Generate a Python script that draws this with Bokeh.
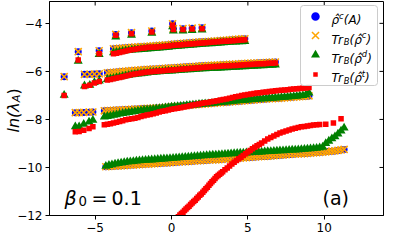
import numpy as np
from math import pi
from bokeh.plotting import figure
from bokeh.models import Range1d, FixedTicker, Label, BoxAnnotation
from bokeh.embed import file_html
from bokeh.resources import INLINE

# ---------------- data ----------------
x_ticks = [-5, 0, 5, 10]
y_ticks = [-12, -10, -8, -6, -4]
x_tick_labels = ["\u22125", "0", "5", "10"]
y_tick_labels = ["\u221212", "\u221210", "\u22128", "\u22126", "\u22124"]

# band 1 (top, discrete points)
b1_x = [-3.65, -2.62, -1.29, 0.07, 0.12, 0.75, 1.35, 2.0]
b1_c = [-4.46, -4.39, -4.32, -4.02, -4.22, -4.22, -4.2, -4.18]
b1_g = [-4.56, -4.49, -4.41, -4.14, -4.31, -4.31, -4.29, -4.27]
b1_r = [-4.5, -4.43, -4.36, -4.08, -4.26, -4.26, -4.24, -4.22]

# band 2
b2_x = [-6.11, -4.74,
        -3.8, -3.6, -3.4, -3.2, -3.0, -2.8, -2.6, -2.4, -2.2, -2.0, -1.8, -1.6, -1.4, -1.2, -1.0,
        -0.8, -0.6, -0.4, -0.2, 0.0, 0.2, 0.4, 0.6, 0.8, 1.0, 1.2, 1.4, 1.6, 1.8, 2.0, 2.2, 2.4,
        2.6, 2.8, 3.0, 3.2, 3.4, 3.6, 3.8, 4.0, 4.2, 4.4, 4.6, 4.8]
b2_c = [-5.18, -5.14,
        -5.06, -5.05, -5.04, -5.03, -5.02, -5.01, -5.0, -4.99, -4.98, -4.97, -4.97, -4.96, -4.95,
        -4.94, -4.93, -4.92, -4.91, -4.9, -4.89, -4.87, -4.86, -4.85, -4.84, -4.83, -4.82, -4.81,
        -4.8, -4.79, -4.78, -4.77, -4.77, -4.76, -4.75, -4.74, -4.73, -4.72, -4.71, -4.7, -4.69,
        -4.68, -4.67, -4.66, -4.65, -4.64]
b2_g = [-5.57, -5.29,
        -5.22, -5.2, -5.18, -5.16, -5.14, -5.13, -5.11, -5.1, -5.09, -5.08, -5.07, -5.06, -5.05,
        -5.04, -5.03, -5.02, -5.01, -5.0, -4.99, -4.97, -4.96, -4.95, -4.94, -4.93, -4.92, -4.91,
        -4.9, -4.89, -4.88, -4.87, -4.86, -4.85, -4.84, -4.83, -4.82, -4.81, -4.8, -4.79, -4.78,
        -4.77, -4.77, -4.76, -4.76, -4.75]
b2_r = [-5.53, -5.27,
        -5.27, -5.24, -5.21, -5.18, -5.15, -5.12, -5.1, -5.08, -5.06, -5.04, -5.03, -5.01, -5.0,
        -4.99, -4.98, -4.97, -4.96, -4.95, -4.94, -4.92, -4.91, -4.9, -4.89, -4.88, -4.87, -4.86,
        -4.85, -4.84, -4.83, -4.82, -4.81, -4.8, -4.79, -4.78, -4.77, -4.76, -4.75, -4.74, -4.73,
        -4.72, -4.71, -4.7, -4.69, -4.68]

# band 3
b3_x = [-7.03, -5.7, -5.35, -5.05, -4.73,
        -4.2, -4.0, -3.8, -3.6, -3.4, -3.2, -3.0, -2.8, -2.6, -2.4, -2.2, -2.0, -1.8, -1.6, -1.4,
        -1.2, -1.0, -0.8, -0.6, -0.4, -0.2, 0.0, 0.2, 0.4, 0.6, 0.8, 1.0, 1.2, 1.4, 1.6, 1.8, 2.0,
        2.2, 2.4, 2.6, 2.8, 3.0, 3.2, 3.4, 3.6, 3.8, 4.0, 4.2, 4.4, 4.6, 4.8, 5.0, 5.2, 5.4, 5.6,
        5.8, 6.0, 6.2, 6.4, 6.6, 6.8]
b3_c = [-6.22, -6.12, -6.12, -6.11, -6.1,
        -6.06, -6.05, -6.04, -6.03, -6.02, -6.0, -5.99, -5.98, -5.97, -5.96, -5.95, -5.94, -5.93,
        -5.92, -5.91, -5.9, -5.9, -5.89, -5.88, -5.87, -5.86, -5.86, -5.85, -5.84, -5.83, -5.82,
        -5.81, -5.81, -5.8, -5.79, -5.78, -5.77, -5.77, -5.76, -5.75, -5.74, -5.74, -5.73, -5.72,
        -5.72, -5.71, -5.7, -5.7, -5.69, -5.68, -5.68, -5.67, -5.66, -5.66, -5.65, -5.64, -5.64,
        -5.63, -5.62, -5.62, -5.61]
b3_g = [-6.99, -6.6, -6.57, -6.46, -6.4,
        -6.33, -6.3, -6.28, -6.25, -6.23, -6.2, -6.18, -6.16, -6.14, -6.12, -6.1, -6.09, -6.07,
        -6.06, -6.04, -6.03, -6.02, -6.01, -6.0, -5.99, -5.98, -5.98, -5.97, -5.96, -5.95, -5.94,
        -5.93, -5.93, -5.92, -5.91, -5.9, -5.89, -5.89, -5.88, -5.87, -5.86, -5.86, -5.85, -5.84,
        -5.84, -5.83, -5.82, -5.82, -5.81, -5.8, -5.8, -5.79, -5.78, -5.78, -5.77, -5.76, -5.76,
        -5.75, -5.74, -5.74, -5.73]
b3_r = [-7.0, -6.63, -6.58, -6.48, -6.42,
        -6.36, -6.34, -6.31, -6.28, -6.25, -6.22, -6.19, -6.16, -6.13, -6.11, -6.09, -6.07, -6.05,
        -6.03, -6.02, -6.0, -5.99, -5.98, -5.97, -5.96, -5.95, -5.94, -5.93, -5.92, -5.91, -5.9,
        -5.89, -5.88, -5.87, -5.86, -5.85, -5.84, -5.83, -5.82, -5.81, -5.8, -5.8, -5.79, -5.78,
        -5.77, -5.76, -5.75, -5.75, -5.74, -5.73, -5.72, -5.71, -5.71, -5.7, -5.69, -5.68, -5.68,
        -5.67, -5.66, -5.66, -5.65]

# band 4
b4_x = [-6.3, -6.05, -5.75, -5.4, -5.15,
        -4.4, -4.2, -4.0, -3.8, -3.6, -3.4, -3.2, -3.0, -2.8, -2.6,
        -2.4, -2.2, -2.0, -1.8, -1.6, -1.4, -1.2, -1.0, -0.8, -0.6,
        -0.4, -0.2, 0.0, 0.2, 0.4, 0.6, 0.8, 1.0, 1.2, 1.4,
        1.6, 1.8, 2.0, 2.2, 2.4, 2.6, 2.8, 3.0, 3.2, 3.4,
        3.6, 3.8, 4.0, 4.2, 4.4, 4.6, 4.8, 5.0, 5.2, 5.4,
        5.6, 5.8, 6.0, 6.2, 6.4, 6.6, 6.8, 7.0, 7.2, 7.4,
        7.6, 7.8, 8.0, 8.2, 8.4, 8.6, 8.8, 9.0]
b4_c = [-7.72, -7.72, -7.71, -7.7, -7.69,
        -7.64, -7.63, -7.63, -7.62, -7.61, -7.61, -7.6, -7.59, -7.59, -7.58,
        -7.57, -7.57, -7.56, -7.55, -7.54, -7.54, -7.53, -7.52, -7.52, -7.51,
        -7.5, -7.48, -7.47, -7.46, -7.45, -7.44, -7.43, -7.42, -7.41, -7.4,
        -7.38, -7.37, -7.36, -7.35, -7.34, -7.33, -7.32, -7.31, -7.3, -7.29,
        -7.28, -7.27, -7.26, -7.25, -7.24, -7.23, -7.22, -7.21, -7.2, -7.19,
        -7.18, -7.17, -7.16, -7.15, -7.14, -7.13, -7.12, -7.12, -7.11, -7.1,
        -7.09, -7.08, -7.07, -7.06, -7.05, -7.04, -7.03, -7.02]
b4_g = [-8.3, -8.3, -8.2, -8.1, -8.03,
        -7.9, -7.87, -7.85, -7.82, -7.8, -7.77, -7.75, -7.73, -7.71, -7.69,
        -7.67, -7.65, -7.63, -7.61, -7.6, -7.58, -7.57, -7.55, -7.54, -7.53,
        -7.51, -7.5, -7.48, -7.47, -7.46, -7.45, -7.44, -7.42, -7.41, -7.4,
        -7.39, -7.37, -7.36, -7.35, -7.34, -7.33, -7.32, -7.3, -7.29, -7.28,
        -7.27, -7.26, -7.24, -7.23, -7.22, -7.21, -7.2, -7.19, -7.18, -7.17,
        -7.16, -7.15, -7.14, -7.13, -7.12, -7.11, -7.1, -7.09, -7.08, -7.07,
        -7.06, -7.05, -7.04, -7.03, -7.01, -7.0, -6.97, -6.9]
b4_r = [-8.51, -8.5, -8.45, -8.38, -8.3,
        -8.22, -8.2, -8.18, -8.15, -8.12, -8.09, -8.05, -8.01, -7.99, -7.97,
        -7.95, -7.92, -7.88, -7.85, -7.82, -7.79, -7.76, -7.73, -7.69, -7.66,
        -7.64, -7.61, -7.58, -7.56, -7.53, -7.51, -7.48, -7.46, -7.43, -7.4,
        -7.38, -7.36, -7.33, -7.31, -7.29, -7.26, -7.24, -7.22, -7.19, -7.17,
        -7.15, -7.12, -7.09, -7.06, -7.03, -7.0, -6.98, -6.96, -6.94, -6.92,
        -6.9, -6.89, -6.87, -6.86, -6.84, -6.83, -6.81, -6.8, -6.79, -6.77,
        -6.76, -6.74, -6.73, -6.72, -6.71, -6.7, -6.69, -6.67]

# band 5 (blue / orange / green)
b5_x = [-4.3, -4.1, -3.9, -3.7, -3.5, -3.3, -3.1, -2.9, -2.7, -2.5,
        -2.3, -2.1, -1.9, -1.7, -1.5, -1.3, -1.1, -0.9, -0.7, -0.5,
        -0.3, -0.1, 0.1, 0.3, 0.5, 0.7, 0.9, 1.1, 1.3, 1.5,
        1.7, 1.9, 2.1, 2.3, 2.5, 2.7, 2.9, 3.1, 3.3, 3.5,
        3.7, 3.9, 4.1, 4.3, 4.5, 4.7, 4.9, 5.1, 5.3, 5.5,
        5.7, 5.9, 6.1, 6.3, 6.5, 6.7, 6.9, 7.1, 7.3, 7.5,
        7.7, 7.9, 8.1, 8.3, 8.5, 8.7, 8.9, 9.1, 9.3, 9.5,
        9.7, 9.9, 10.1, 10.3, 10.5, 10.7, 10.9, 11.1, 11.3]
b5_c = [-9.97, -9.96, -9.95, -9.94, -9.94, -9.93, -9.92, -9.91, -9.9, -9.9,
        -9.89, -9.88, -9.87, -9.86, -9.86, -9.85, -9.84, -9.83, -9.82, -9.81,
        -9.81, -9.8, -9.79, -9.78, -9.77, -9.76, -9.76, -9.75, -9.74, -9.73,
        -9.72, -9.72, -9.71, -9.7, -9.69, -9.68, -9.68, -9.67, -9.66, -9.65,
        -9.64, -9.64, -9.63, -9.62, -9.61, -9.6, -9.59, -9.58, -9.57, -9.56,
        -9.55, -9.54, -9.54, -9.53, -9.52, -9.51, -9.5, -9.49, -9.48, -9.47,
        -9.46, -9.45, -9.44, -9.43, -9.43, -9.42, -9.41, -9.4, -9.39, -9.38,
        -9.37, -9.36, -9.35, -9.33, -9.32, -9.31, -9.29, -9.27, -9.25]
b5_g = [-9.95, -9.91, -9.88, -9.85, -9.83, -9.81, -9.79, -9.77, -9.76, -9.75,
        -9.73, -9.72, -9.71, -9.7, -9.69, -9.68, -9.67, -9.66, -9.65, -9.64,
        -9.63, -9.62, -9.61, -9.6, -9.59, -9.58, -9.57, -9.56, -9.55, -9.54,
        -9.53, -9.52, -9.51, -9.5, -9.49, -9.48, -9.48, -9.47, -9.46, -9.45,
        -9.44, -9.43, -9.42, -9.41, -9.4, -9.4, -9.39, -9.38, -9.37, -9.36,
        -9.36, -9.35, -9.34, -9.33, -9.33, -9.32, -9.31, -9.3, -9.3, -9.29,
        -9.28, -9.27, -9.27, -9.26, -9.25, -9.24, -9.23, -9.22, -9.21, -9.2,
        -9.18, -9.15, -9.0, -8.9, -8.8, -8.72, -8.6, -8.48, -8.35]
# band 5 red curve
b5r_x = [0.45, 0.55, 0.65, 0.75, 0.85, 0.95, 1.05, 1.15, 1.25, 1.35,
         1.45, 1.55, 1.65, 1.75, 1.85, 1.95, 2.05, 2.15, 2.25, 2.35,
         2.45, 2.55, 2.65, 2.75, 2.85, 2.95, 3.05, 3.15, 3.25, 3.35,
         3.5, 3.65, 3.8, 3.95, 4.1, 4.25, 4.4, 4.55, 4.7, 4.85,
         5.0, 5.15, 5.3, 5.45, 5.6, 5.75, 5.9, 6.1, 6.3, 6.5,
         6.7, 6.9, 7.1, 7.3, 7.5, 7.7, 7.9, 8.1, 8.3, 8.5,
         8.7, 8.9, 9.1, 9.3, 9.5, 9.7, 10.1, 10.6, 11.1]
b5r_y = [-12.05, -11.98, -11.92, -11.86, -11.79, -11.73, -11.67, -11.61, -11.54, -11.48,
         -11.42, -11.36, -11.29, -11.23, -11.16, -11.1, -11.03, -10.96, -10.89, -10.82,
         -10.74, -10.67, -10.6, -10.53, -10.46, -10.39, -10.33, -10.28, -10.23, -10.18,
         -10.1, -10.02, -9.94, -9.86, -9.78, -9.71, -9.64, -9.57, -9.5, -9.43,
         -9.36, -9.29, -9.22, -9.16, -9.1, -9.04, -8.98, -8.9, -8.82, -8.75,
         -8.69, -8.63, -8.57, -8.52, -8.48, -8.44, -8.4, -8.37, -8.34, -8.31,
         -8.29, -8.27, -8.25, -8.23, -8.22, -8.21, -8.2, -8.15, -7.97]

# ---------------- layout ----------------
FL, FR, FT, FB = 57, 391, 9, 223          # frame edges on the page (px)
X0, X1, Y0, Y1 = -7.99, 13.88, -12.0, -3.09
LEFT_BORDER = 100                          # wide left panel (axis + rotated label pieces)
SHIFT = FL - 8 - LEFT_BORDER               # negative margin so that the frame lands at FL


def dx(px):
    return X0 + (px - FL) * (X1 - X0) / (FR - FL)


def dy(py):
    return Y0 + (FB - py) * (Y1 - Y0) / (FB - FT)


p = figure(width=LEFT_BORDER + (FR - FL) + (398 - FR), height=239,
           x_range=Range1d(X0, X1), y_range=Range1d(Y0, Y1),
           output_backend="svg", toolbar_location=None,
           min_border_left=LEFT_BORDER, min_border_right=398 - FR, min_border_top=FT - 8,
           min_border_bottom=239 - (FB - 8))
p.margin = (0, 0, 0, SHIFT)
p.xgrid.visible = False
p.ygrid.visible = False
p.outline_line_color = "black"
p.outline_line_alpha = 1
p.outline_line_width = 1

p.xaxis.ticker = FixedTicker(ticks=x_ticks)
p.yaxis.ticker = FixedTicker(ticks=y_ticks)
p.xaxis.major_label_overrides = {float(k): v for k, v in zip(x_ticks, x_tick_labels)}
p.yaxis.major_label_overrides = {float(k): v for k, v in zip(y_ticks, y_tick_labels)}
for ax in (p.xaxis[0], p.yaxis[0]):
    ax.major_tick_out = 4
    ax.major_tick_in = 0
    ax.minor_tick_line_color = None
    ax.major_tick_line_color = "black"
    ax.axis_line_color = "black"
    ax.major_label_text_font = "DejaVu Sans"
    ax.major_label_text_font_size = "12px"
    ax.major_label_text_color = "black"
    ax.major_label_standoff = 3

# inward ticks on the top and right frame edges (half of each dash is clipped by the frame)
p.scatter(x_ticks, [Y1] * len(x_ticks), marker="dash", size=8, angle=pi / 2,
          line_color="black", line_width=1)
p.scatter([X1] * len(y_ticks), y_ticks, marker="dash", size=8, line_color="black", line_width=1)

# ---------------- marks ----------------
cx = np.concatenate([b1_x, b2_x, b3_x, b4_x, b5_x])
cy = np.concatenate([b1_c, b2_c, b3_c, b4_c, b5_c])
gy = np.concatenate([b1_g, b2_g, b3_g, b4_g, b5_g])
rx = np.concatenate([b1_x, b2_x, b3_x, b4_x, b5r_x])
ry = np.concatenate([b1_r, b2_r, b3_r, b4_r, b5r_y])

BLUE, ORANGE, GREEN, RED = "#0000ff", "#ffa500", "#008000", "#ff0000"
p.scatter(cx, cy, marker="circle", size=7, fill_color=BLUE, line_color=None)
p.scatter(cx, cy, marker="x", size=10, line_color=ORANGE, line_width=1.6)
p.scatter(cx, gy, marker="triangle", size=9, fill_color=GREEN, line_color=None)
p.scatter(rx, ry, marker="square", size=5.5, fill_color=RED, line_color=None)

# ---------------- texts ----------------
EM = {" ": .318, "(": .390, ")": .390, ".": .318, "0": .636, "1": .636, "=": .838,
      "A": .684, "B": .686, "T": .611, "a": .613, "c": .550, "d": .635, "l": .278, "n": .634,
      "r": .411, "t": .392, "\u03c1": .635, "\u03bb": .592, "\u03b2": .640, "\u0302": 0.0}


def width(s, fs):
    return sum(EM.get(ch, .6) for ch in s) * fs


def make_label(s, px, py, fs, italic=True, angle=0.0):
    return Label(x=dx(px), y=dy(py), text=s, text_font="DejaVu Sans",
                 text_font_size="%.1fpx" % fs,
                 text_font_style="italic" if italic else "normal",
                 text_color="black", text_align="left", text_baseline="alphabetic",
                 angle=angle)


def text(s, px, py, fs, italic=True, angle=0.0):
    p.add_layout(make_label(s, px, py, fs, italic, angle))


def rich(pieces, px, py):
    for s, fs, off, it in pieces:
        text(s, px, py + off, fs, it)
        px += width(s, fs)


# y-axis label  ln(lambda_A), rotated, placed in the left panel so that it is not clipped
fy = 16
yl_base, yl_start = 20.5, 140
p.add_layout(make_label("ln(\u03bb", yl_base, yl_start, fy, True, pi / 2), "left")
yl_start -= width("ln(\u03bb", fy)
p.add_layout(make_label("A", yl_base + 0.22 * fy, yl_start, 0.7 * fy, True, pi / 2), "left")
yl_start -= width("A", 0.7 * fy)
p.add_layout(make_label(")", yl_base, yl_start, fy, False, pi / 2), "left")

# beta_0 = 0.1 and (a)
text("\u03b2", 72, 205, 19, True)
text("0", 86, 208, 13.3, False)
text("=", 99, 205, 19, False)
text("0.1", 119, 205, 19, False)
text("(a)", 330, 205, 19, False)

# legend
p.add_layout(BoxAnnotation(left=dx(308), right=dx(385), top=dy(13), bottom=dy(93),
                           fill_color="white", fill_alpha=0.8, line_color="#cccccc",
                           line_alpha=1, line_width=1, border_radius=3))
lx = dx(323)
p.scatter([lx], [dy(24)], marker="circle", size=8.5, fill_color=BLUE, line_color=None, level="overlay")
p.scatter([lx], [dy(43)], marker="x", size=10, line_color=ORANGE, line_width=1.5, level="overlay")
p.scatter([lx], [dy(62.5)], marker="triangle", size=9, fill_color=GREEN, line_color=None, level="overlay")
p.scatter([lx], [dy(82)], marker="square", size=4.5, fill_color=RED, line_color=None, level="overlay")

fl, fs_ = 12, 8.4
rich([("\u03c1\u0302", fl, 0, True), ("c", fs_, -4.5, True), ("(A)", fl, 0, True)], 339, 27.8)
for sup, base in (("c", 47.1), ("d", 66.4), ("t", 85.7)):
    rich([("Tr", fl, 0, True), ("B", fs_, 2.5, True), ("(\u03c1\u0302", fl, 0, True),
          (sup, fs_, -4.5, True), (")", fl, 0, True)], 339, base)

open("out.html", "w").write(file_html(p, INLINE))
